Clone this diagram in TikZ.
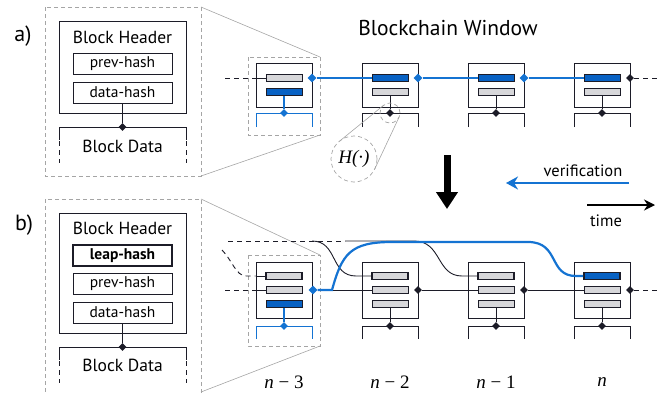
\documentclass[tikz,border=0pt]{standalone}
\usepackage{fontspec}
\setmainfont{PT Sans}
\newfontfamily\mathser{Liberation Serif}
\usetikzlibrary{arrows.meta,shapes.geometric}
\definecolor{ink}{RGB}{28,28,40}
\definecolor{bl}{RGB}{20,115,210}
\definecolor{blfill}{RGB}{8,98,196}
\definecolor{barg}{RGB}{215,215,218}
\definecolor{zg}{RGB}{165,165,165}
\tikzset{
  blk/.style={draw=ink, line width=1pt, minimum width=56pt, inner sep=0pt},
  hbar/.style={draw=ink, line width=0.9pt, minimum width=36pt, minimum height=7pt, inner sep=0pt},
  lbar/.style={hbar, line width=1.7pt},
  dia/.style={diamond, fill=ink, inner sep=0pt, minimum size=8pt},
  bdia/.style={diamond, fill=bl, inner sep=0pt, minimum size=9pt},
  hbox/.style={draw=ink, line width=1pt, minimum width=99pt, minimum height=21pt, inner sep=0pt, font=\fontsize{15.5}{15.5}\selectfont},
  zbox/.style={draw=zg, dash pattern=on 4pt off 3pt, line width=0.8pt},
  zline/.style={draw=zg, line width=0.6pt},
  chain/.style={draw=ink, line width=0.9pt},
  ldash/.style={dash pattern=on 5pt off 4pt},
  bchain/.style={draw=bl, line width=2.2pt},
  lbl/.style={font=\fontsize{17.5}{17.5}\selectfont},
  idx/.style={font=\fontsize{19}{19}\selectfont\mathser},
}
\begin{document}
\begin{tikzpicture}[x=1pt,y=-1pt]
\useasboundingbox (0,0) rectangle (661,394);
\clip (0,0) rectangle (661,394);
% ---------- panel labels and titles
\node[font=\fontsize{22}{22}\selectfont] (la) at (23,36) {a)};
\node[font=\fontsize{22}{22}\selectfont] (lb) at (24,225) {b)};
\node[font=\fontsize{21.5}{21.5}\selectfont] (title) at (448,28) {Blockchain Window};
% ---------- zoom boxes
\draw[zbox] (45,7) rectangle (201,176);
\draw[zbox] (248,57) rectangle (320,135);
\draw[zline] (201,7) -- (320,57);
\draw[zline] (201,176) -- (320,135);
\draw[zbox] (45,199) rectangle (201,400);
\draw[zbox] (248,255) rectangle (320,346);
\draw[zline] (201,199) -- (320,255);
\draw[zline] (201,392) -- (320,346);
% ---------- header a
\node[draw=ink, line width=1pt, minimum width=127pt, minimum height=92pt, inner sep=0pt] (HA) at (122.5,67) {};
\node[lbl] (HAt) at (122.5,37) {Block Header};
\node[hbox] (HAp) at (122.5,63.5) {prev-hash};
\node[hbox] (HAd) at (122.5,92.5) {data-hash};
\node[dia] (HAj) at (122.5,127) {};
\draw[chain] (HAd) -- (HAj);
\draw[chain] (59,140) -- (59,127) -- (186,127) -- (186,140);
\draw[chain, ldash] (59,141) -- (59,163);
\draw[chain, ldash] (186,141) -- (186,163);
\node[lbl] (HAb) at (122.5,146) {Block Data};
% ---------- header b
\node[draw=ink, line width=1pt, minimum width=127pt, minimum height=120pt, inner sep=0pt] (HB) at (122.5,273) {};
\node[lbl] (HBt) at (122.5,228) {Block Header};
\node[hbox, line width=1.8pt, font=\fontsize{15.5}{15.5}\selectfont\bfseries] (HBl) at (122.5,255.5) {leap-hash};
\node[hbox] (HBp) at (122.5,283.5) {prev-hash};
\node[hbox] (HBd) at (122.5,312.5) {data-hash};
\node[dia] (HBj) at (122.5,347) {};
\draw[chain] (HBd) -- (HBj);
\draw[chain] (59,360) -- (59,347) -- (186,347) -- (186,360);
\draw[chain, ldash] (59,361) -- (59,383);
\draw[chain, ldash] (186,361) -- (186,383);
\node[lbl] (HBb) at (122.5,365) {Block Data};
% ---------- chain a
\foreach \k/\cx/\pc/\dc/\lc in {1/284/barg/blfill/bl,2/390/blfill/barg/ink,3/496/blfill/barg/ink,4/602/blfill/barg/ink}{
  \node[blk, minimum height=44pt] (A\k) at (\cx,85) {};
  \node[hbar, fill=\pc] (A\k p) at (\cx,78) {};
  \node[hbar, fill=\dc] (A\k d) at (\cx,92) {};
  \draw[draw=\lc, line width=1pt] (\cx-28,127) -- (\cx-28,113) -- (\cx+28,113) -- (\cx+28,127);
  \node[dia, fill=\lc] (A\k j) at (\cx,113) {};
  \draw[draw=\lc, line width=1pt] (A\k d) -- (A\k j);
}
\draw[draw=bl, line width=1.6pt] (A1d) -- (A1j);
\node[bdia] (A1r) at (312,78) {};
\node[bdia] (A2r) at (418,78) {};
\node[bdia] (A3r) at (524,78) {};
\node[dia] (A4r) at (630,78) {};
\coordinate (AL) at (225,78);
\coordinate (AR) at (661,78);
\draw[chain, ldash] (AL) -- (A1.west |- A1p.west);
\draw[chain] (A1.west |- A1p.west) -- (A1p.west);
\draw[bchain] (A1r) -- (A2p.west);
\draw[bchain] (A2r) -- (A3p.west);
\draw[bchain] (A3r) -- (A4p.west);
\draw[chain, ldash] (A4r) -- (AR);
% H(.) magnifier
\node[circle, draw=zg, dash pattern=on 4pt off 3pt, line width=0.7pt, minimum size=20pt, inner sep=0pt] (hs) at (390,113) {};
\node[circle, draw=zg, dash pattern=on 4pt off 3pt, line width=0.7pt, minimum size=46pt, inner sep=0pt, idx] (hb) at (354,159) {\itshape H(·)};
\coordinate (t1) at (383.7,105.2);
\coordinate (t2) at (339.5,141.2);
\coordinate (t3) at (399.0,117.3);
\coordinate (t4) at (374.8,168.8);
\draw[zline] (t1) -- (t2);
\draw[zline] (t3) -- (t4);
% ---------- arrows
\coordinate (d1) at (447,155);
\coordinate (d2) at (447,209);
\draw[line width=7pt, -{Triangle[width=21pt,length=17pt]}] (d1) -- (d2);
\coordinate (v1) at (629,183);
\coordinate (v2) at (506,183);
\draw[bl, line width=2.2pt, -{Stealth[width=13pt,length=12pt]}] (v1) -- (v2);
\node[font=\fontsize{16.5}{16.5}\selectfont] (vt) at (583,171) {verification};
\coordinate (w1) at (587,205);
\coordinate (w2) at (655,205);
\draw[line width=1.6pt, -{Stealth[width=11pt,length=11pt]}] (w1) -- (w2);
\node[font=\fontsize{16.5}{16.5}\selectfont] (wt) at (606,221) {time};
% ---------- chain b
\foreach \k/\cx/\lf/\df/\lc in {1/284/barg/blfill/bl,2/390/barg/barg/ink,3/496/barg/barg/ink,4/602/blfill/barg/ink}{
  \node[blk, minimum height=56pt] (B\k) at (\cx,290) {};
  \node[lbar, fill=\lf] (B\k l) at (\cx,276) {};
  \node[hbar, fill=barg] (B\k p) at (\cx,290) {};
  \node[hbar, fill=\df] (B\k d) at (\cx,304) {};
  \draw[draw=\lc, line width=1pt] (\cx-28,339) -- (\cx-28,326) -- (\cx+28,326) -- (\cx+28,339);
  \node[dia, fill=\lc] (B\k j) at (\cx,326) {};
  \draw[draw=\lc, line width=1pt] (B\k d) -- (B\k j);
}
\draw[draw=bl, line width=1.6pt] (B1d) -- (B1j);
\node[bdia] (B1r) at (313,290) {};
\node[dia] (B2r) at (418,290) {};
\node[dia] (B3r) at (524,290) {};
\node[dia] (B4r) at (630,290) {};
\coordinate (BL) at (225,290);
\coordinate (BR) at (661,290);
\draw[chain, ldash] (BL) -- (B1.west |- B1p.west);
\draw[chain] (B1.west |- B1p.west) -- (B1p.west);
\draw[chain] (B1r) -- (B2p.west);
\draw[chain] (B2r) -- (B3p.west);
\draw[chain] (B3r) -- (B4p.west);
\draw[chain, ldash] (B4r) -- (BR);
% leap links
\coordinate (k0) at (222,250);
\coordinate (k1) at (246,276);
\draw[chain, ldash] (k0) .. controls (232,260) and (236,276) .. (k1) -- (B1.west |- B1l.west);
\draw[chain] (B1.west |- B1l.west) -- (B1l.west);
\coordinate (m0) at (228,241);
\coordinate (m1) at (345,241);
\coordinate (m2) at (312,241);
\draw[chain, ldash] (m0) -- (m1);
\draw[chain] (m2) .. controls (338,241) and (330,276) .. (356,276) -- (B2l.west);
\draw[chain] (m1) -- (414,241) .. controls (442,241) and (436,276) .. (462,276) -- (B3l.west);
% blue leap verification
\draw[bchain] (B1r) -- (332,290) .. controls (342,254) and (350,242) .. (392,242) -- (528,242) .. controls (560,242) and (548,276) .. (576,276) -- (B4l.west);
% ---------- index labels
\node[idx] (n3) at (284,382) {\textit{n} − 3};
\node[idx] (n2) at (390,382) {\textit{n} − 2};
\node[idx] (n1) at (496,382) {\textit{n} − 1};
\node[idx] (n0) at (602,382) {\textit{n}};
\end{tikzpicture}
\end{document}
